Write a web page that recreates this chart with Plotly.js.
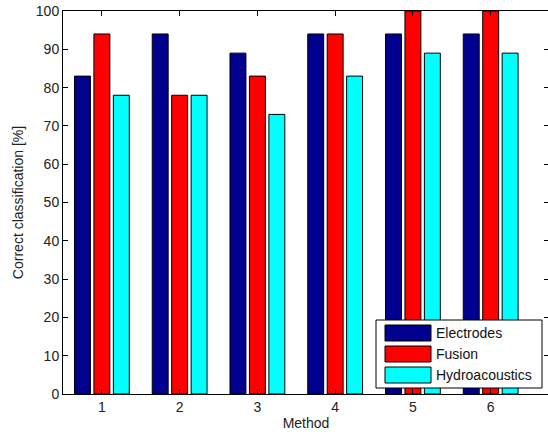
<!DOCTYPE html>
<html>
<head>
<meta charset="utf-8">
<script src="https://cdn.plot.ly/plotly-3.0.1.min.js"></script>
<style>
html,body{margin:0;padding:0;overflow:hidden;background:#fff;}
#chart{width:550px;height:435px;}
</style>
</head>
<body>
<div id="chart"></div>
<script>
// Data
var methods = [1, 2, 3, 4, 5, 6];
var seriesNames = ["Electrodes", "Fusion", "Hydroacoustics"];
var electrodes = [83, 94, 89, 94, 94, 94];
var fusion = [94, 78, 83, 94, 100, 100];
var hydroacoustics = [78, 78, 73, 83, 89, 89];
var colors = ["#00008F", "#FF0000", "#00FFFF"];

var values = [electrodes, fusion, hydroacoustics];
var traces = values.map(function (v, i) {
  return {
    type: "bar",
    x: methods,
    y: v,
    name: seriesNames[i],
    marker: {color: colors[i], line: {color: "#000", width: 1}},
    showlegend: false,
    hoverinfo: "x+y+name"
  };
});

// plot area in pixels
var L = 63, R = 549, T = 11, B = 394;
function px(x) { return (x - L) / (R - L); }
function py(y) { return (B - y) / (B - T); }

var shapes = [{
  type: "rect", xref: "paper", yref: "paper",
  x0: px(376), x1: px(542), y0: py(388), y1: py(320),
  fillcolor: "#fff", line: {color: "#000", width: 1}, layer: "above"
}];
var annotations = [];
var patchTops = [325, 346, 367];
for (var i = 0; i < 3; i++) {
  shapes.push({
    type: "rect", xref: "paper", yref: "paper",
    x0: px(385), x1: px(431), y0: py(patchTops[i] + 16), y1: py(patchTops[i]),
    fillcolor: colors[i], line: {color: "#000", width: 1}, layer: "above"
  });
  annotations.push({
    xref: "paper", yref: "paper", x: px(434), y: py(patchTops[i] + 8),
    xanchor: "left", yanchor: "middle", showarrow: false,
    text: seriesNames[i], font: {family: "Liberation Sans, Arial, sans-serif", size: 14, color: "#111"}
  });
}

var layout = {
  width: 550, height: 435,
  margin: {l: L, r: 550 - R, t: T, b: 435 - B, pad: 0},
  paper_bgcolor: "#fff", plot_bgcolor: "#fff",
  barmode: "group", bargap: 0.25, bargroupgap: 0.18,
  font: {family: "Liberation Sans, Arial, sans-serif", size: 14, color: "#222"},
  xaxis: {
    range: [0.5, 6.75], tickvals: methods, ticktext: methods.map(String),
    showgrid: false, zeroline: false, showline: true, linecolor: "#000", linewidth: 1,
    mirror: "ticks", ticks: "inside", ticklen: 5, tickcolor: "#000",
    tickfont: {size: 14, color: "#222"},
    title: {text: "Method", font: {size: 14, color: "#222"}, standoff: 4}
  },
  yaxis: {
    range: [0, 100], dtick: 10, tick0: 0,
    showgrid: false, zeroline: false, showline: true, linecolor: "#000", linewidth: 1,
    mirror: "ticks", ticks: "inside", ticklen: 5, tickcolor: "#000",
    tickfont: {size: 14, color: "#222"},
    title: {text: "Correct classification [%]", font: {size: 14, color: "#222"}, standoff: 8}
  },
  shapes: shapes,
  annotations: annotations,
  showlegend: false
};

Plotly.newPlot("chart", traces, layout, {displayModeBar: false, staticPlot: true});
</script>
</body>
</html>
